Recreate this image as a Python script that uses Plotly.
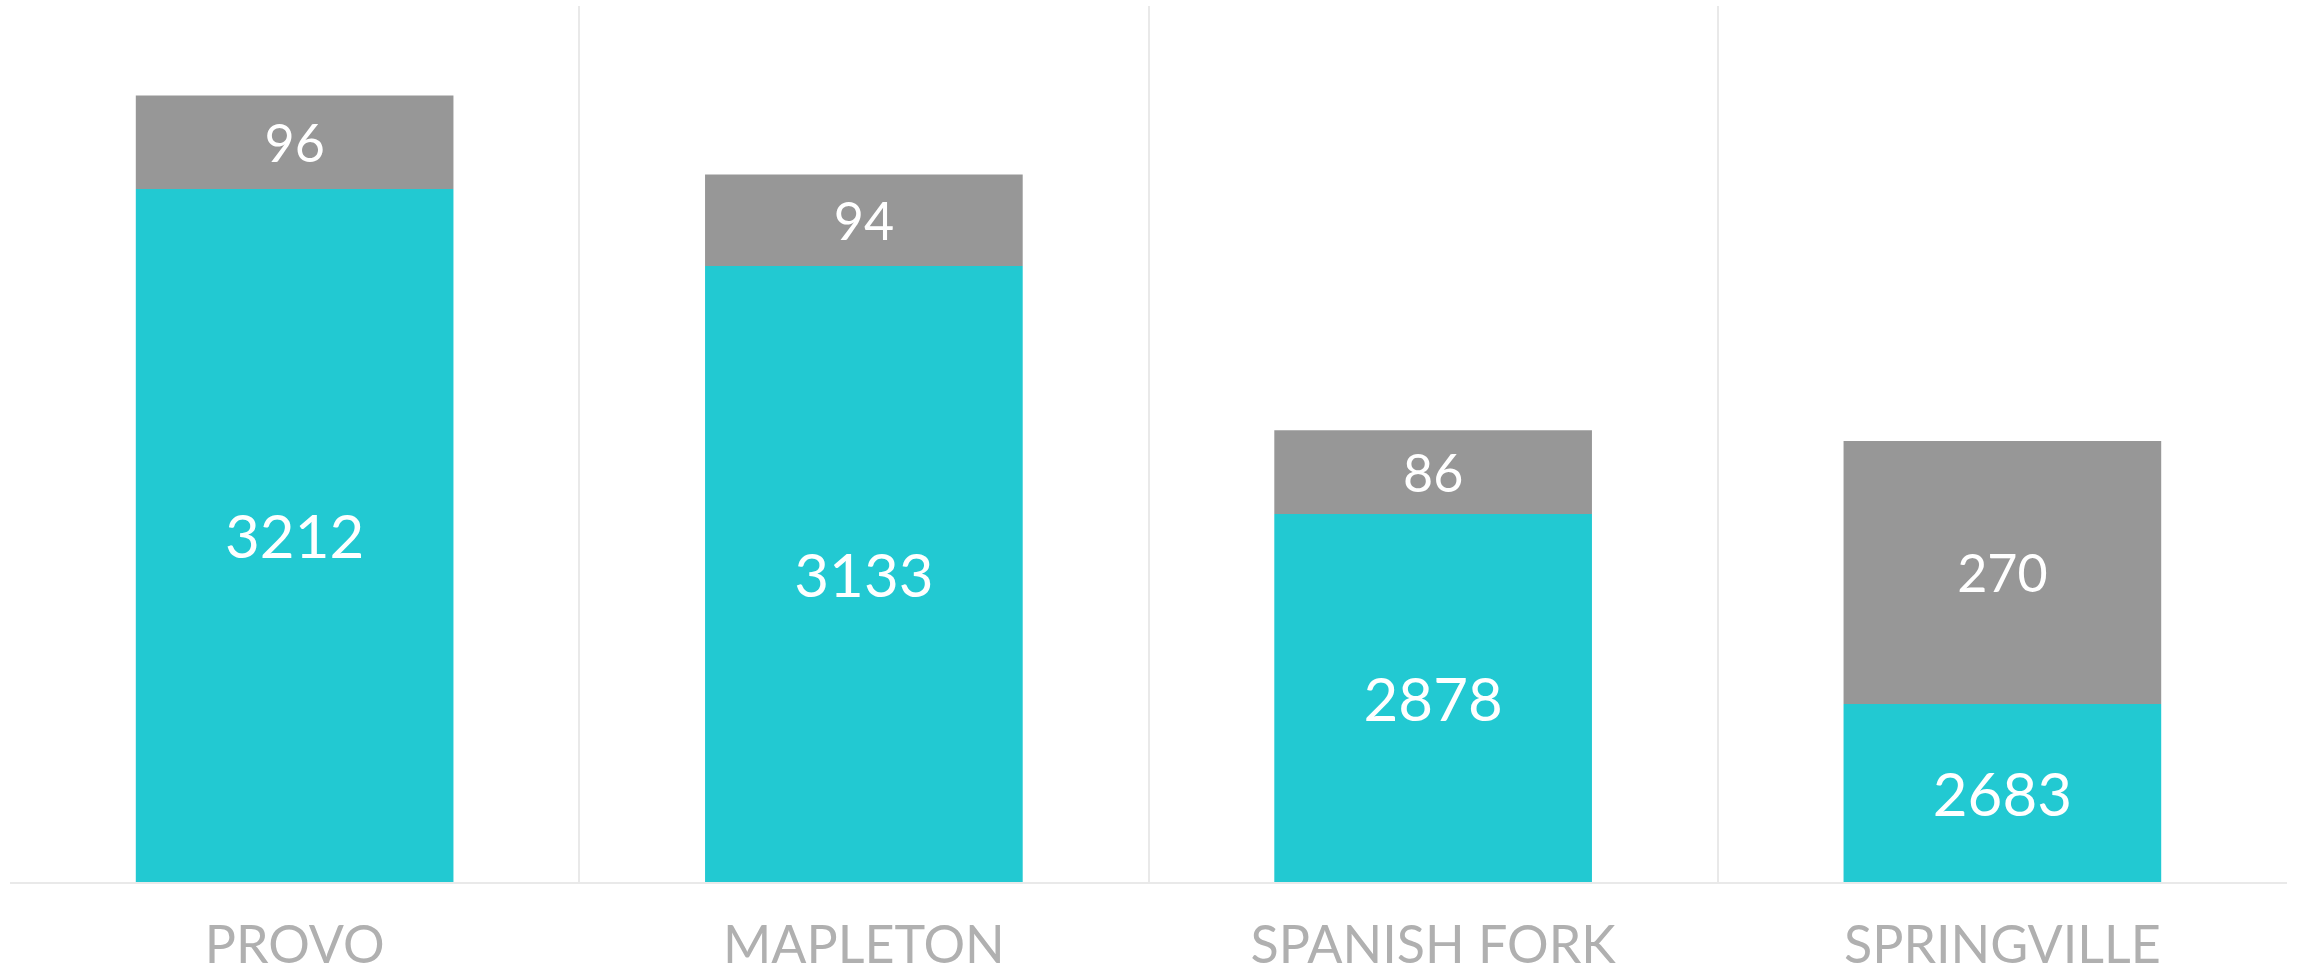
import plotly.graph_objects as go

categories = ["PROVO", "MAPLETON", "SPANISH FORK", "SPRINGVILLE"]
lower_values = [3212, 3133, 2878, 2683]
upper_values = [96, 94, 86, 270]
axis_min = 2500
axis_max = 3400

teal = "#22C9D2"
gray = "#979797"

fig = go.Figure()
fig.add_trace(go.Bar(
    x=categories,
    y=[v - axis_min for v in lower_values],
    base=[axis_min] * len(lower_values),
    text=[str(v) for v in lower_values],
    textposition="inside",
    insidetextanchor="middle",
    textangle=0,
    textfont=dict(family="Lato", size=60, color="white"),
    marker=dict(color=teal, line=dict(width=0)),
    hoverinfo="skip",
    showlegend=False,
))
fig.add_trace(go.Bar(
    x=categories,
    y=upper_values,
    base=lower_values,
    text=[str(v) for v in upper_values],
    textposition="inside",
    insidetextanchor="middle",
    textangle=0,
    textfont=dict(family="Lato", size=52, color="white"),
    marker=dict(color=gray, line=dict(width=0)),
    hoverinfo="skip",
    showlegend=False,
))

fig.update_layout(
    width=2300,
    height=974,
    barmode="overlay",
    bargap=0.442,
    plot_bgcolor="white",
    paper_bgcolor="white",
    margin=dict(l=9.5, r=13, t=6, b=91.5),
    uniformtext=dict(mode=False),
    xaxis=dict(
        type="category",
        range=[-0.5, 3.5],
        tickson="boundaries",
        showgrid=True,
        gridcolor="#e9e9e9",
        gridwidth=1.5,
        showline=True,
        linecolor="#e9e9e9",
        linewidth=2,
        ticks="",
        ticklabelstandoff=17,
        tickfont=dict(family="Lato", size=52, color="#b0b0b0"),
        automargin=False,
        zeroline=False,
    ),
    yaxis=dict(
        range=[axis_min, axis_max],
        showgrid=False,
        zeroline=False,
        showticklabels=False,
        showline=False,
        ticks="",
        automargin=False,
    ),
)

# remove the browser's default 8px body margin so the figure fills the window exactly
fig.write_html(
    "out.html",
    config={"displayModeBar": False},
    post_script="document.body.style.margin='0';",
)
